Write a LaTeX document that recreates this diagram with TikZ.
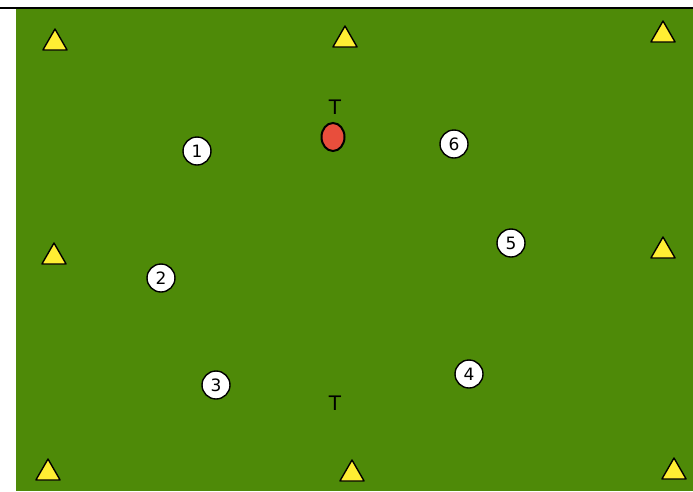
\documentclass[tikz,border=0pt]{standalone}
\usepackage{fontspec}
\setmainfont{DejaVu Sans}
\usetikzlibrary{shapes.geometric}
\definecolor{field}{RGB}{78,138,8}
\definecolor{cone}{RGB}{255,238,51}
\definecolor{ballred}{RGB}{232,78,60}
\tikzset{
  cone/.style={regular polygon, regular polygon sides=3, minimum size=28pt, inner sep=0pt, fill=cone, draw=black, line width=1.4pt, line join=round},
  player/.style={circle, minimum size=28pt, inner sep=0pt, fill=white, draw=black, line width=1.4pt, font=\fontsize{17}{17}\selectfont},
  ball/.style={ellipse, minimum width=23pt, minimum height=28pt, inner sep=0pt, fill=ballred, draw=black, line width=2pt},
  lbl/.style={inner sep=0pt, font=\fontsize{20}{20}\selectfont}
}
\begin{document}
\begin{tikzpicture}[x=1pt,y=-1pt]
\useasboundingbox (0,0) rectangle (693,491);
\fill[white] (0,0) rectangle (693,491);
\fill[field] (16,9) rectangle (693,491);
\draw[line width=1.5pt] (0,8) -- (693,8);
% cones
\node[cone] (c1) at (55,43) {};
\node[cone] (c2) at (345,40) {};
\node[cone] (c3) at (663,35) {};
\node[cone] (c4) at (54,257) {};
\node[cone] (c5) at (663,251) {};
\node[cone] (c6) at (48,473) {};
\node[cone] (c7) at (352,474) {};
\node[cone] (c8) at (674,472) {};
% players
\node[player] (p1) at (197,151) {1};
\node[player] (p2) at (161,278) {2};
\node[player] (p3) at (216,385) {3};
\node[player] (p4) at (469,374) {4};
\node[player] (p5) at (511,243) {5};
\node[player] (p6) at (454,144) {6};
% ball and labels
\node[ball] (b) at (333,137) {};
\node[lbl] (t1) at (335,107) {T};
\node[lbl] (t2) at (335,403) {T};
\end{tikzpicture}
\end{document}
